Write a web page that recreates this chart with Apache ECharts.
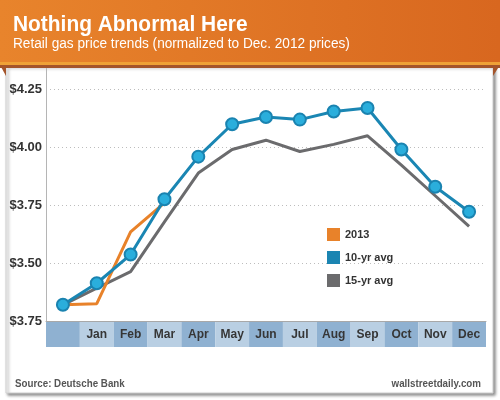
<!DOCTYPE html>
<html>
<head>
<meta charset="utf-8">
<script src="https://cdn.jsdelivr.net/npm/echarts@6/dist/echarts.min.js"></script>
<style>html,body{margin:0;padding:0;background:#fff;}#c{width:500px;height:400px;}</style>
</head>
<body>
<div id="c"></div>
<script>
var categories = ['', 'Jan', 'Feb', 'Mar', 'Apr', 'May', 'Jun', 'Jul', 'Aug', 'Sep', 'Oct', 'Nov', 'Dec'];
var s2013 = [3.32, 3.325, 3.635, 3.76, null, null, null, null, null, null, null, null, null];
var s10yr = [3.32, 3.413, 3.537, 3.776, 3.96, 4.10, 4.131, 4.12, 4.155, 4.17, 3.991, 3.83, 3.722];
var s15yr = [3.32, 3.392, 3.463, 3.678, 3.889, 3.991, 4.031, 3.982, 4.013, 4.05, 3.923, 3.791, 3.659];
var yTickLabels = ['$3.75', '$3.50', '$3.75', '$4.00', '$4.25'];
var seriesNames = ['2013', '10-yr avg', '15-yr avg'];

var SANS = '"Liberation Sans", Arial, sans-serif';
var chart = echarts.init(document.getElementById('c'), null, {renderer: 'canvas'});
var yMin = 3.25, yStep = 0.25;

chart.setOption({
  animation: false,
  backgroundColor: '#ffffff',
  graphic: [
    {type: 'rect', z: 0, shape: {x: 6, y: 66, width: 487, height: 327},
      style: {fill: '#ffffff', stroke: '#d0d0d0', lineWidth: 1, shadowBlur: 3, shadowOffsetX: 2, shadowOffsetY: 2, shadowColor: 'rgba(0,0,0,0.45)'}},
    {type: 'rect', z: 1, shape: {x: 0, y: 0, width: 500, height: 64},
      style: {fill: new echarts.graphic.LinearGradient(0, 0, 1, 0, [{offset: 0, color: '#e8842c'}, {offset: 1, color: '#d8671f'}])}},
    {type: 'rect', z: 1, shape: {x: 0, y: 62, width: 500, height: 3}, style: {fill: '#efa136'}},
    {type: 'rect', z: 1, shape: {x: 0, y: 65, width: 500, height: 3}, style: {fill: '#a4542a'}},
    {type: 'polygon', z: 1, shape: {points: [[0, 65], [6, 65], [6, 76]]}, style: {fill: '#a4542a'}},
    {type: 'polygon', z: 1, shape: {points: [[493, 65], [500, 65], [493, 76]]}, style: {fill: '#a4542a'}},
    {type: 'text', z: 2, x: 13, y: 24.5, scaleX: 0.95, style: {text: 'Nothing Abnormal Here', fill: '#ffffff', font: 'bold 22px ' + SANS, textVerticalAlign: 'middle'}},
    {type: 'text', z: 2, x: 13, y: 44.5, scaleX: 0.975, style: {text: 'Retail gas price trends (normalized to Dec. 2012 prices)', fill: '#ffffff', font: '14px ' + SANS, textVerticalAlign: 'middle'}},
    {type: 'line', z: 2, shape: {x1: 46.5, y1: 68, x2: 46.5, y2: 322}, style: {stroke: '#b5b5b5', lineWidth: 1}},
    {type: 'text', z: 2, x: 15, y: 384, scaleX: 0.85, style: {text: 'Source: Deutsche Bank', fill: '#555555', font: 'bold 11.5px ' + SANS, textVerticalAlign: 'middle'}},
    {type: 'text', z: 2, x: 481, y: 384, scaleX: 0.85, style: {text: 'wallstreetdaily.com', fill: '#555555', font: 'bold 11.5px ' + SANS, textVerticalAlign: 'middle', textAlign: 'right'}}
  ],
  legend: {
    orient: 'vertical', left: 322, top: 223, itemWidth: 13, itemHeight: 13, itemGap: 10,
    icon: 'rect',
    textStyle: {fontFamily: SANS, fontWeight: 'bold', fontSize: 11, color: '#333'},
    data: [
      {name: seriesNames[0], itemStyle: {color: '#e8822a', borderWidth: 0}},
      {name: seriesNames[1], itemStyle: {color: '#1b85b2', borderWidth: 0}},
      {name: seriesNames[2], itemStyle: {color: '#6b6b6d', borderWidth: 0}}
    ]
  },
  grid: {left: 46, right: 14, top: 89.5, bottom: 79, containLabel: false},
  xAxis: {
    type: 'category', data: categories, boundaryGap: true,
    axisLine: {show: true, lineStyle: {color: '#a8a8a8', width: 1}},
    axisTick: {show: false},
    axisLabel: {
      interval: 0, margin: 1,
      formatter: function (v, i) { return (i % 2 === 0 ? '{d|' : '{l|') + (v === '' ? ' ' : v) + '}'; },
      rich: {
        d: {width: 33.85, height: 25, lineHeight: 25, align: 'center', verticalAlign: 'middle', backgroundColor: '#8fb1d1', color: '#363636', fontFamily: SANS, fontWeight: 'bold', fontSize: 12},
        l: {width: 33.85, height: 25, lineHeight: 25, align: 'center', verticalAlign: 'middle', backgroundColor: '#b9cfe3', color: '#363636', fontFamily: SANS, fontWeight: 'bold', fontSize: 12}
      }
    },
    z: 3
  },
  yAxis: {
    type: 'value', min: yMin, max: 4.25, interval: yStep,
    axisLine: {show: false}, axisTick: {show: false},
    axisLabel: {
      margin: 4, color: '#333', fontFamily: SANS, fontWeight: 'bold', fontSize: 13,
      formatter: function (v) { return yTickLabels[Math.round((v - yMin) / yStep)]; }
    },
    splitLine: {show: true, lineStyle: {color: '#bdbdbd', type: [1, 3], width: 1}}
  },
  series: [
    {name: seriesNames[2], type: 'line', data: s15yr, symbol: 'none', z: 3,
      lineStyle: {color: '#6b6b6d', width: 3}, itemStyle: {color: '#6b6b6d'}},
    {name: seriesNames[0], type: 'line', data: s2013, symbol: 'none', z: 4, connectNulls: false,
      lineStyle: {color: '#e8822a', width: 3}, itemStyle: {color: '#e8822a'}},
    {name: seriesNames[1], type: 'line', data: s10yr, symbol: 'circle', symbolSize: 12, showSymbol: true, z: 5,
      lineStyle: {color: '#1a86b3', width: 3},
      itemStyle: {color: '#2aaedc', borderColor: '#1a83b0', borderWidth: 2}}
  ]
});
</script>
</body>
</html>
